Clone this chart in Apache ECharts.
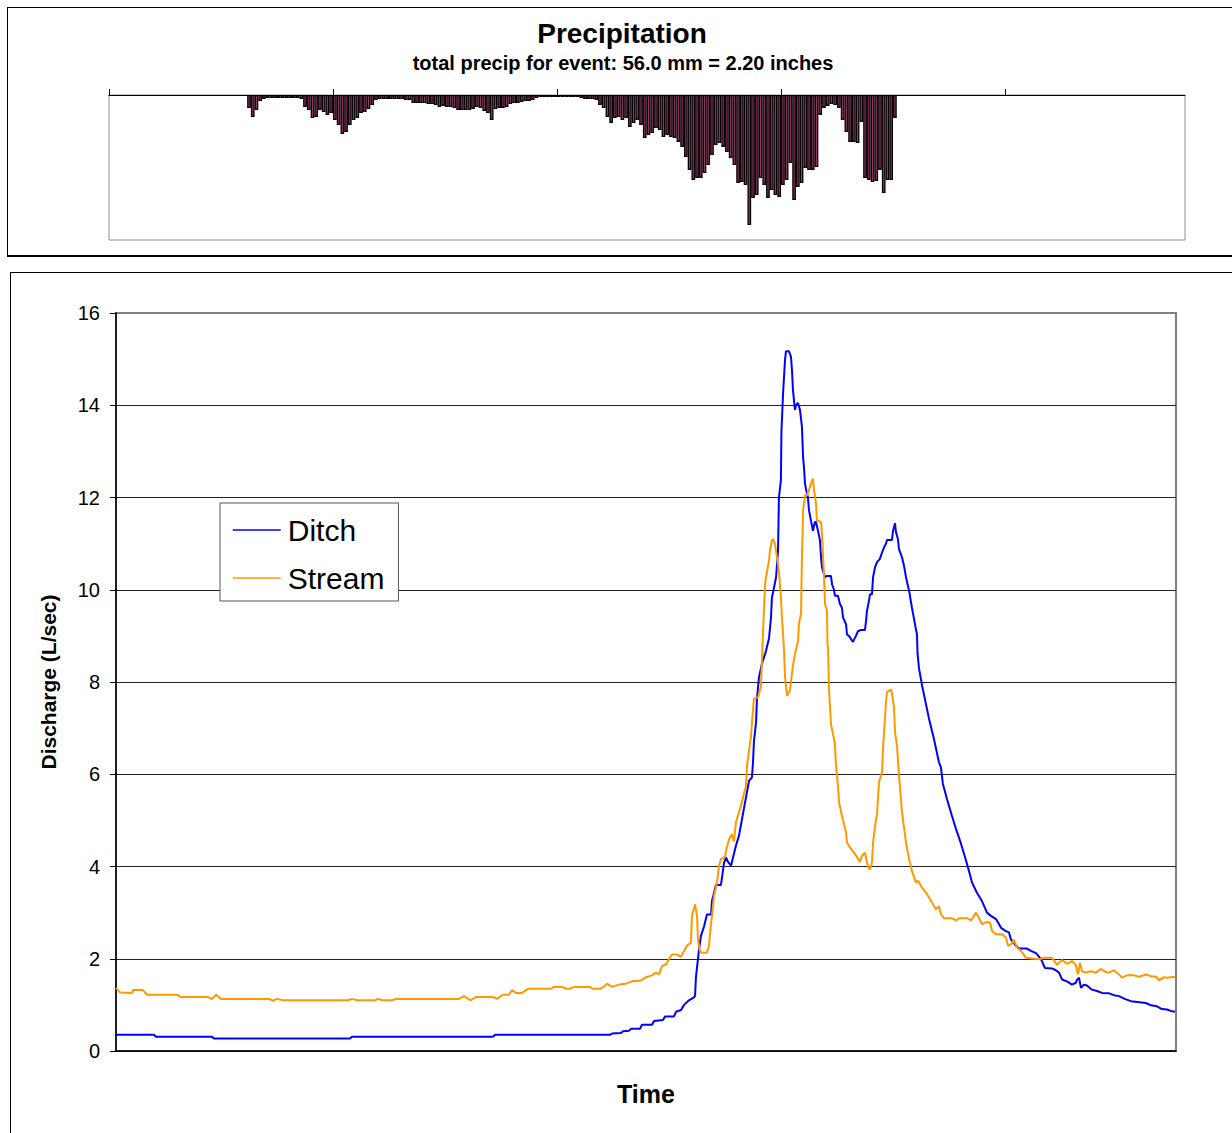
<!DOCTYPE html>
<html>
<head>
<meta charset="utf-8">
<title>Precipitation and discharge</title>
<script src="https://cdn.jsdelivr.net/npm/echarts@6/dist/echarts.min.js"></script>
<style>
  html, body { margin: 0; padding: 0; background: #fff; }
  #page { position: relative; width: 1232px; height: 1133px; overflow: hidden; }
  .frame { position: absolute; box-sizing: border-box; border: 1px solid #000; }
  #precipFrame { left: 7px; top: 7px; width: 1240px; height: 250px; border-bottom-width: 2px; }
  #flowFrame { left: 10px; top: 272px; width: 1240px; height: 880px; }
  #chart { position: absolute; left: 0; top: 0; width: 1232px; height: 1133px; }
</style>
</head>
<body>
<div id="page">
  <div id="precipFrame" class="frame"></div>
  <div id="flowFrame" class="frame"></div>
  <div id="chart"></div>
</div>
<script>
// precipitation, mm per 12-minute interval, hours from start of the record
const precipStartHour = 7.4;
const precipStepHour = 0.2;
const precipTickHours = [0, 12, 24, 36, 48];
const precipMm = [
  0.13, 0.22, 0.15, 0.06, 0.04, 0.03, 0.03, 0.03, 0.03, 0.03, 0.03, 0.03, 0.03, 0.03, 0.04,
  0.12, 0.15, 0.23, 0.22, 0.15, 0.17, 0.20, 0.18, 0.25, 0.30, 0.39, 0.37, 0.30, 0.25, 0.23,
  0.18, 0.17, 0.14, 0.10, 0.05, 0.04, 0.04, 0.04, 0.04, 0.04, 0.04,
  0.04, 0.05, 0.05, 0.08, 0.08, 0.08, 0.08, 0.09, 0.09, 0.10, 0.12, 0.11, 0.12, 0.12, 0.13,
  0.15, 0.15, 0.15, 0.15, 0.14, 0.12, 0.13, 0.16, 0.18, 0.25, 0.14, 0.13, 0.13, 0.12, 0.09,
  0.08, 0.08, 0.07, 0.06, 0.06, 0.05, 0.03,
  0.02, 0.02, 0.02, 0.02, 0.02, 0.02, 0.02, 0.02, 0.02, 0.02, 0.02,
  0.03, 0.04, 0.04, 0.04, 0.05,
  0.10, 0.13, 0.22, 0.28, 0.23, 0.22, 0.25, 0.23, 0.32, 0.28, 0.25, 0.30, 0.43, 0.40, 0.38,
  0.33, 0.35, 0.42, 0.40, 0.42, 0.43, 0.47, 0.52, 0.62, 0.75, 0.85, 0.83, 0.83, 0.78, 0.70,
  0.60, 0.50, 0.48, 0.52, 0.57, 0.63, 0.70, 0.88, 0.87, 0.90, 1.30, 1.03, 1.00, 0.83, 0.90,
  1.03, 0.95, 1.00, 1.02, 0.90, 0.85, 0.68, 1.05, 0.92, 0.88, 0.73, 0.75, 0.75, 0.72, 0.20,
  0.13, 0.11, 0.09, 0.10, 0.13, 0.25, 0.37, 0.47, 0.47, 0.48, 0.27, 0.83, 0.85, 0.87, 0.86,
  0.75, 0.98, 0.85, 0.85, 0.23
];

// discharge, [hour, L/sec]
const ditch = [
  [0, 0.35], [2.11, 0.35], [2.22, 0.31], [5.33, 0.31], [5.44, 0.27], [13.0, 0.27], [13.11, 0.31],
  [20.94, 0.31], [21.06, 0.35], [27.44, 0.35], [27.56, 0.38], [28.06, 0.39], [28.17, 0.43],
  [28.5, 0.44], [28.61, 0.48], [29.11, 0.48], [29.22, 0.57], [29.78, 0.57], [29.89, 0.65],
  [30.39, 0.67], [30.5, 0.75], [31.0, 0.75], [31.11, 0.85], [31.39, 0.89], [31.56, 1.0],
  [31.83, 1.1], [32.11, 1.16], [32.17, 1.2], [32.22, 1.6], [32.39, 2.2], [32.5, 2.5],
  [32.67, 2.7], [32.83, 2.96], [33.06, 2.96], [33.11, 3.25], [33.33, 3.6], [33.61, 3.6],
  [33.78, 4.08], [33.89, 4.2], [34.0, 4.1], [34.17, 4.02], [34.44, 4.45], [34.61, 4.67],
  [34.78, 5.03], [35.0, 5.5], [35.17, 5.86], [35.33, 5.93], [35.39, 6.26], [35.44, 6.7],
  [35.56, 7.13], [35.61, 7.64], [35.72, 8.1], [35.89, 8.4], [36.11, 8.67], [36.28, 8.95],
  [36.39, 9.4], [36.44, 9.83], [36.56, 10.05], [36.67, 10.27], [36.78, 10.85], [36.83, 12.0],
  [36.94, 12.37], [36.97, 13.46], [37.0, 13.7], [37.06, 14.26], [37.17, 14.99], [37.22, 15.17],
  [37.39, 15.17], [37.5, 15.05], [37.56, 14.73], [37.61, 14.33], [37.72, 13.9], [37.78, 14.0],
  [37.89, 14.05], [38.0, 13.9], [38.06, 13.7], [38.11, 13.53], [38.17, 12.88], [38.22, 12.66],
  [38.28, 12.3], [38.33, 12.19], [38.44, 12.0], [38.5, 11.72], [38.61, 11.5], [38.72, 11.28],
  [38.83, 11.47], [38.89, 11.47], [39.0, 11.28], [39.11, 11.07], [39.17, 10.7], [39.22, 10.49],
  [39.39, 10.27], [39.5, 10.3], [39.72, 10.3], [39.78, 10.12], [39.89, 10.0], [39.94, 9.87],
  [40.11, 9.87], [40.22, 9.69], [40.33, 9.61], [40.39, 9.4], [40.56, 9.25], [40.61, 9.03],
  [40.72, 9.0], [40.94, 8.87], [41.11, 9.0], [41.22, 9.1], [41.39, 9.13], [41.61, 9.13],
  [41.67, 9.32], [41.72, 9.54], [41.83, 9.76], [41.89, 9.9], [42.0, 9.9], [42.06, 10.27],
  [42.17, 10.49], [42.28, 10.6], [42.44, 10.67], [42.56, 10.81], [42.67, 10.92], [42.78, 11.0],
  [42.83, 11.08], [43.11, 11.08], [43.17, 11.28], [43.28, 11.44], [43.33, 11.25], [43.44, 11.1],
  [43.5, 10.88], [43.67, 10.7], [43.78, 10.52], [43.89, 10.27], [44.06, 9.98], [44.22, 9.61],
  [44.39, 9.25], [44.5, 9.03], [44.53, 8.63], [44.61, 8.3], [44.78, 7.93], [45.17, 7.2],
  [45.44, 6.77], [45.72, 6.26], [45.83, 6.15], [45.94, 5.79], [46.17, 5.46], [46.44, 5.1],
  [46.67, 4.81], [46.94, 4.5], [47.17, 4.2], [47.39, 3.9], [47.56, 3.65], [47.83, 3.43],
  [48.11, 3.25], [48.39, 3.0], [48.61, 2.93], [48.89, 2.86], [49.17, 2.67], [49.44, 2.6],
  [49.61, 2.57], [49.72, 2.42], [50.0, 2.28], [50.17, 2.22], [50.61, 2.22], [50.83, 2.17],
  [51.11, 2.12], [51.39, 1.99], [51.61, 1.8], [52.0, 1.79], [52.22, 1.75], [52.39, 1.7],
  [52.56, 1.55], [52.83, 1.51], [53.11, 1.44], [53.33, 1.48], [53.39, 1.54], [53.5, 1.59],
  [53.61, 1.37], [53.78, 1.44], [53.94, 1.42], [54.22, 1.33], [54.5, 1.3], [54.78, 1.26],
  [55.17, 1.25], [55.44, 1.21], [55.72, 1.19], [56.11, 1.12], [56.39, 1.08], [57.22, 1.04],
  [57.5, 0.99], [57.83, 0.97], [58.11, 0.91], [58.39, 0.9], [58.67, 0.86], [58.83, 0.85]
];

const stream = [
  [0, 1.37], [0.22, 1.27], [0.89, 1.26], [0.94, 1.32], [1.5, 1.32], [1.61, 1.27], [1.72, 1.22],
  [3.39, 1.22], [3.61, 1.17], [5.11, 1.17], [5.33, 1.13], [5.56, 1.22], [5.83, 1.13], [8.5, 1.13],
  [8.72, 1.09], [8.94, 1.13], [9.28, 1.1], [12.89, 1.1], [13.11, 1.13], [13.39, 1.1], [14.39, 1.1],
  [14.56, 1.13], [14.78, 1.1], [15.33, 1.1], [15.56, 1.13], [19.06, 1.13], [19.33, 1.19],
  [19.67, 1.1], [20.0, 1.17], [20.94, 1.17], [21.17, 1.13], [21.5, 1.22], [21.83, 1.22],
  [22.0, 1.32], [22.22, 1.26], [22.56, 1.26], [22.89, 1.35], [24.17, 1.35], [24.33, 1.39],
  [24.78, 1.39], [25.0, 1.35], [25.22, 1.35], [25.44, 1.39], [26.28, 1.39], [26.5, 1.35],
  [26.89, 1.35], [27.11, 1.39], [27.28, 1.46], [27.56, 1.39], [27.94, 1.44], [28.33, 1.46],
  [28.67, 1.51], [29.17, 1.53], [29.44, 1.6], [29.78, 1.64], [30.0, 1.7], [30.17, 1.66],
  [30.33, 1.84], [30.56, 1.88], [30.72, 1.99], [30.89, 2.09], [31.17, 2.09], [31.39, 2.04],
  [31.56, 2.17], [31.72, 2.28], [31.94, 2.35], [32.0, 2.93], [32.17, 3.18], [32.28, 2.93],
  [32.33, 2.42], [32.44, 2.17], [32.56, 2.13], [32.83, 2.13], [32.94, 2.28], [33.06, 2.78],
  [33.11, 2.93], [33.22, 3.36], [33.39, 3.65], [33.5, 4.01], [33.61, 4.16], [33.83, 4.2],
  [33.89, 4.34], [34.06, 4.59], [34.22, 4.7], [34.33, 4.54], [34.44, 4.96], [34.72, 5.32],
  [35.0, 5.75], [35.06, 6.2], [35.28, 6.84], [35.44, 7.64], [35.67, 7.67], [35.83, 7.9],
  [35.94, 9.03], [36.06, 10.12], [36.11, 10.27], [36.28, 10.63], [36.33, 10.85], [36.44, 11.07],
  [36.5, 11.1], [36.61, 11.0], [36.72, 10.7], [36.83, 10.41], [36.94, 9.83], [37.0, 9.4],
  [37.11, 8.72], [37.17, 8.1], [37.28, 7.7], [37.44, 7.82], [37.5, 8.0], [37.61, 8.36],
  [37.72, 8.6], [37.89, 8.89], [37.94, 9.25], [38.06, 9.5], [38.08, 10.05], [38.11, 10.7],
  [38.17, 11.72], [38.28, 12.05], [38.39, 12.05], [38.5, 12.16], [38.61, 12.3], [38.72, 12.41],
  [38.78, 12.16], [38.89, 11.87], [38.94, 11.5], [39.17, 11.47], [39.22, 11.21], [39.33, 10.34],
  [39.39, 9.69], [39.5, 9.54], [39.53, 8.81], [39.56, 8.72], [39.61, 7.86], [39.72, 7.09],
  [39.94, 6.66], [40.0, 6.19], [40.11, 5.75], [40.17, 5.39], [40.33, 5.1], [40.56, 4.74],
  [40.61, 4.52], [40.83, 4.38], [41.0, 4.3], [41.17, 4.2], [41.33, 4.1], [41.44, 4.23],
  [41.61, 4.3], [41.72, 4.09], [41.83, 3.94], [41.94, 3.98], [42.0, 4.1], [42.06, 4.52],
  [42.17, 4.88], [42.28, 5.14], [42.39, 5.83], [42.56, 6.04], [42.61, 6.55], [42.78, 7.57],
  [42.83, 7.78], [43.06, 7.84], [43.11, 7.75], [43.22, 7.46], [43.28, 6.91], [43.39, 6.62],
  [43.5, 5.97], [43.67, 5.17], [43.89, 4.52], [44.06, 4.16], [44.22, 3.9], [44.44, 3.65],
  [44.56, 3.69], [44.78, 3.54], [45.06, 3.4], [45.33, 3.22], [45.56, 3.07], [45.72, 3.14],
  [45.83, 2.96], [46.0, 2.88], [46.44, 2.88], [46.67, 2.83], [46.83, 2.88], [47.28, 2.88],
  [47.5, 2.83], [47.78, 3.0], [47.94, 2.89], [48.11, 2.75], [48.39, 2.8], [48.56, 2.78],
  [48.67, 2.6], [48.89, 2.53], [49.22, 2.53], [49.44, 2.46], [49.56, 2.28], [49.72, 2.31],
  [49.89, 2.41], [50.06, 2.24], [50.28, 2.17], [50.56, 2.02], [51.0, 2.0], [51.28, 1.99],
  [51.56, 2.02], [52.0, 2.02], [52.28, 1.87], [52.56, 1.97], [52.83, 1.89], [53.11, 1.95],
  [53.33, 1.86], [53.44, 1.66], [53.56, 1.91], [53.67, 1.73], [53.89, 1.7], [54.17, 1.73],
  [54.44, 1.7], [54.72, 1.78], [55.0, 1.71], [55.17, 1.7], [55.44, 1.75], [55.72, 1.66],
  [55.89, 1.59], [56.17, 1.64], [56.56, 1.64], [56.83, 1.61], [57.22, 1.66], [57.5, 1.62],
  [57.78, 1.61], [57.94, 1.53], [58.22, 1.6], [58.39, 1.59], [58.83, 1.61]
];

const font = "'Liberation Sans', Arial, sans-serif";

const precipBars = precipMm.map((v, i) => [precipStartHour + precipStepHour * (i + 0.5), v]);

const chart = echarts.init(document.getElementById("chart"), null, { renderer: "svg" });
chart.setOption({
  animation: false,
  backgroundColor: "transparent",
  textStyle: { fontFamily: font, color: "#000" },
  title: [
    {
      text: "Precipitation",
      left: 622,
      top: 19,
      textAlign: "center",
      padding: 0,
      textStyle: { fontFamily: font, fontSize: 28, fontWeight: "bold", color: "#000" },
    },
    {
      text: "total precip for event: 56.0 mm = 2.20 inches",
      left: 623,
      top: 53,
      textAlign: "center",
      padding: 0,
      textStyle: { fontFamily: font, fontSize: 20, fontWeight: "bold", color: "#000" },
    },
  ],
  legend: {
    data: ["Ditch", "Stream"],
    orient: "vertical",
    left: 220,
    top: 503,
    padding: [12, 14, 8, 12],
    itemWidth: 48,
    itemHeight: 30,
    itemGap: 18,
    backgroundColor: "#fff",
    borderColor: "#555",
    borderWidth: 1,
    itemStyle: { opacity: 0 },
    lineStyle: { width: 1.5 },
    textStyle: { fontFamily: font, fontSize: 30, color: "#000", padding: [0, 0, 0, 2] },
  },
  grid: [
    {
      left: 109, top: 95, width: 1076, height: 145,
      show: true, borderColor: "#909090", borderWidth: 1, backgroundColor: "#fff",
      outerBoundsMode: "none",
    },
    {
      left: 116, top: 313, width: 1060, height: 738,
      show: true, borderColor: "#808080", borderWidth: 2, backgroundColor: "#fff",
      outerBoundsMode: "none",
    },
  ],
  xAxis: [
    {
      gridIndex: 0,
      type: "value",
      position: "top",
      min: 0,
      max: 57.64,
      axisLine: { show: true, lineStyle: { color: "#000", width: 1 } },
      axisTick: { show: true, length: 6, customValues: precipTickHours, lineStyle: { color: "#000" } },
      axisLabel: { show: false },
      splitLine: { show: false },
    },
    {
      gridIndex: 1,
      type: "value",
      min: 0,
      max: 58.89,
      name: "Time",
      nameLocation: "middle",
      nameGap: 30,
      nameTextStyle: { fontFamily: font, fontSize: 25, fontWeight: "bold", color: "#000" },
      axisLine: { show: true, lineStyle: { color: "#000", width: 1.5 } },
      axisTick: { show: false },
      axisLabel: { show: false },
      splitLine: { show: false },
    },
  ],
  yAxis: [
    {
      gridIndex: 0,
      type: "value",
      inverse: true,
      min: 0,
      max: 1.45,
      show: false,
      splitLine: { show: false },
    },
    {
      gridIndex: 1,
      type: "value",
      min: 0,
      max: 16,
      interval: 2,
      name: "Discharge (L/sec)",
      nameLocation: "middle",
      nameGap: 57,
      nameTextStyle: { fontFamily: font, fontSize: 21, fontWeight: "bold", color: "#000" },
      axisLine: { show: true, lineStyle: { color: "#000", width: 1.5 } },
      axisTick: { show: true, length: 6, lineStyle: { color: "#000" } },
      axisLabel: { fontFamily: font, fontSize: 20, color: "#000", margin: 16 },
      splitLine: { show: true, showMaxLine: false, lineStyle: { color: "#222", width: 1 } },
    },
  ],
  series: [
    {
      name: "Precip",
      type: "bar",
      xAxisIndex: 0,
      yAxisIndex: 0,
      barWidth: 3.7,
      data: precipBars,
      itemStyle: { color: "#993366", borderColor: "#000", borderWidth: 1.3 },
    },
    {
      name: "Ditch",
      type: "line",
      xAxisIndex: 1,
      yAxisIndex: 1,
      data: ditch,
      symbol: "none",
      color: "#0000ff",
      lineStyle: { color: "#0000ff", width: 2 },
    },
    {
      name: "Stream",
      type: "line",
      xAxisIndex: 1,
      yAxisIndex: 1,
      data: stream,
      symbol: "none",
      color: "#ff9900",
      lineStyle: { color: "#ff9900", width: 2 },
    },
  ],
});
</script>
</body>
</html>
